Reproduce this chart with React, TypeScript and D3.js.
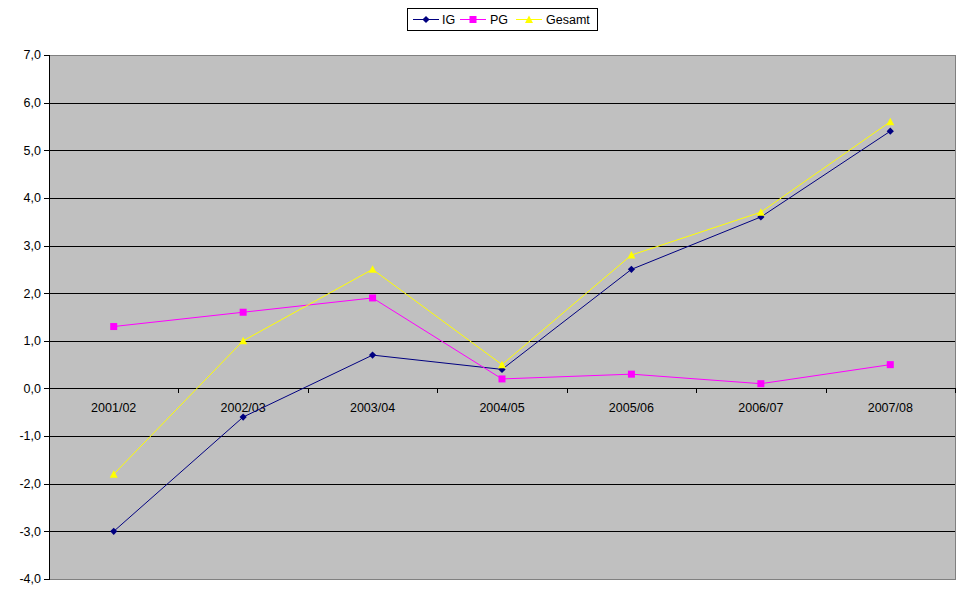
import React from "react";
import * as d3 from "d3";

const categories = ["2001/02", "2002/03", "2003/04", "2004/05", "2005/06", "2006/07", "2007/08"];
const igValues = [-3.0, -0.6, 0.7, 0.4, 2.5, 3.6, 5.4];
const pgValues = [1.3, 1.6, 1.9, 0.2, 0.3, 0.1, 0.5];
const gesamtValues = [-1.8, 1.0, 2.5, 0.5, 2.8, 3.7, 5.6];
const yTicks = [-4, -3, -2, -1, 0, 1, 2, 3, 4, 5, 6, 7];
const seriesNames = ["IG", "PG", "Gesamt"];

const W = 971, H = 605;
const L = 49, R = 955, T = 55, B = 579;
const FONT = "'Liberation Sans', Arial, sans-serif";

function Marker({ kind, x, y, color }: { kind: string; x: number; y: number; color: string }) {
  if (kind === "diamond") {
    const s = 3.6;
    return <path d={`M${x},${y - s}L${x + s},${y}L${x},${y + s}L${x - s},${y}Z`} fill={color} />;
  }
  if (kind === "square") {
    return <rect x={x - 3.5} y={y - 3.5} width={7} height={7} fill={color} />;
  }
  const s = 4;
  return <path d={`M${x},${y - s}L${x + s},${y + s - 0.5}L${x - s},${y + s - 0.5}Z`} fill={color} />;
}

export default function App() {
  const x = d3.scaleBand<string>().domain(categories).range([L, R]);
  const y = d3.scaleLinear().domain([-4, 7]).range([B, T]);
  const cx = (c: string) => (x(c) as number) + x.bandwidth() / 2;

  const series = [
    { name: seriesNames[0], values: igValues, color: "#000080", marker: "diamond" },
    { name: seriesNames[1], values: pgValues, color: "#FF00FF", marker: "square" },
    { name: seriesNames[2], values: gesamtValues, color: "#FFFF00", marker: "triangle" },
  ];

  const line = d3
    .line<number>()
    .x((_, i) => cx(categories[i]))
    .y((v) => y(v));

  const y0 = Math.round(y(0));
  const legendItems = [
    { lx: 413, tx: 442 },
    { lx: 460, tx: 490 },
    { lx: 516, tx: 546 },
  ];
  const fmt = (t: number) => d3.format(".1f")(t).replace(".", ",").replace("\u2212", "-");

  return (
    <svg width={W} height={H} style={{ position: "absolute", left: 0, top: 0 }} fontFamily={FONT}>
      <rect x={0} y={0} width={W} height={H} fill="#fff" />
      <rect x={L} y={T} width={R - L} height={B - T} fill="#C0C0C0" stroke="#808080" strokeWidth={1} shapeRendering="crispEdges" />
      {yTicks.filter((t) => t > -4 && t < 7).map((t) => (
        <line key={t} x1={L} x2={R} y1={Math.round(y(t)) + 0.5} y2={Math.round(y(t)) + 0.5} stroke="#000" strokeWidth={1} shapeRendering="crispEdges" />
      ))}
      <line x1={L + 0.5} x2={L + 0.5} y1={T} y2={B + 1} stroke="#000" shapeRendering="crispEdges" />
      {yTicks.map((t) => (
        <g key={"yt" + t}>
          <line x1={L - 5} x2={L} y1={Math.round(y(t)) + 0.5} y2={Math.round(y(t)) + 0.5} stroke="#000" shapeRendering="crispEdges" />
          <text x={L - 8} y={y(t)} dy="0.35em" textAnchor="end" fontSize={12.5} fill="#000">
            {fmt(t)}
          </text>
        </g>
      ))}
      {categories.map((c, i) => (
        <g key={c}>
          {i > 0 && (
            <line x1={Math.round(x(c) as number) + 0.5} x2={Math.round(x(c) as number) + 0.5} y1={y0} y2={y0 + 5} stroke="#000" shapeRendering="crispEdges" />
          )}
          <text x={cx(c)} y={y0 + 20} dy="0.35em" textAnchor="middle" fontSize={12.5} fill="#000">
            {c}
          </text>
        </g>
      ))}
      <line x1={R} x2={R} y1={y0} y2={y0 + 5} stroke="#000" shapeRendering="crispEdges" />
      {series.map((s) => (
        <g key={s.name}>
          <path d={line(s.values) || ""} fill="none" stroke={s.color} strokeWidth={1} />
          {s.values.map((v, i) => (
            <Marker key={i} kind={s.marker} x={cx(categories[i])} y={y(v)} color={s.color} />
          ))}
        </g>
      ))}
      <rect x={407.5} y={8.5} width={190} height={22} fill="#fff" stroke="#000" strokeWidth={1} shapeRendering="crispEdges" />
      {series.map((s, i) => (
        <g key={"lg" + s.name}>
          <line x1={legendItems[i].lx} x2={legendItems[i].lx + 26} y1={19.5} y2={19.5} stroke={s.color} strokeWidth={1} />
          <Marker kind={s.marker} x={legendItems[i].lx + 13} y={19.5} color={s.color} />
          <text x={legendItems[i].tx} y={19.5} dy="0.35em" fontSize={12.5} fill="#000">
            {s.name}
          </text>
        </g>
      ))}
    </svg>
  );
}
